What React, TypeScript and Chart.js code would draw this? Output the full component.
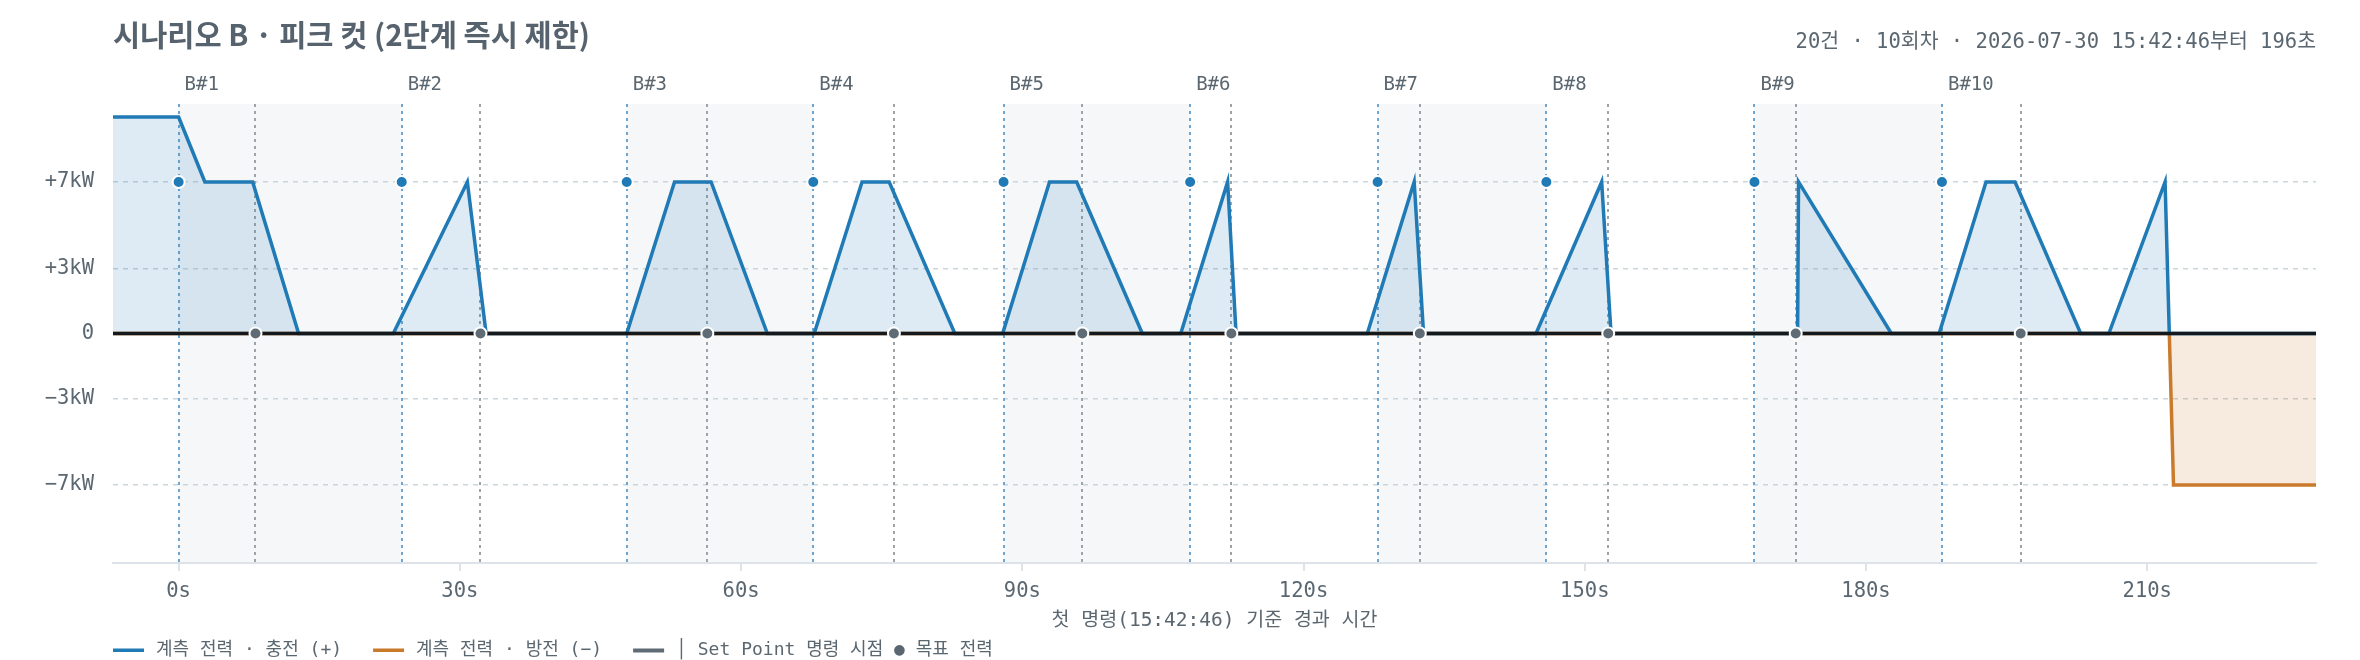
import React, { useEffect, useRef } from "react";
import { Chart, registerables } from "chart.js";

Chart.register(...registerables);

const MONO = "'DejaVu Sans Mono', 'Noto Sans CJK KR', monospace";
const SANS = "'Noto Sans CJK KR', 'Noto Sans', sans-serif";

const titleText = "시나리오 B · 피크 컷 (2단계 즉시 제한)";
const subtitleText = "20건 · 10회차 · 2026-07-30 15:42:46부터 196초";
const xAxisTitle = "첫 명령(15:42:46) 기준 경과 시간";
const seriesLabels = [
  "계측 전력 · 충전 (+)",
  "계측 전력 · 방전 (−)",
  "│ Set Point 명령 시점 ● 목표 전력",
];

// Set Point rounds
const roundLabels = ["B#1", "B#2", "B#3", "B#4", "B#5", "B#6", "B#7", "B#8", "B#9", "B#10"];
const raiseCmdSec = [0, 23.8, 47.8, 67.7, 88.0, 107.9, 127.9, 145.9, 168.1, 188.1];
const cutCmdSec = [8.2, 32.2, 56.4, 76.3, 96.4, 112.3, 132.4, 152.5, 172.5, 196.5];
const raiseTargetKW = [7, 7, 7, 7, 7, 7, 7, 7, 7, 7];
const cutTargetKW = [0, 0, 0, 0, 0, 0, 0, 0, 0, 0];

// Measured power (kW) vs elapsed seconds
const measuredSec = [
  -7, 0, 2.8, 7.9, 12.8, 22.9, 30.8, 32.8, 47.8, 52.9, 56.8, 62.8, 67.8, 72.9, 75.8, 82.8,
  87.9, 92.9, 95.8, 102.8, 106.9, 111.9, 112.8, 126.8, 131.8, 132.8, 144.8, 151.8, 152.8,
  172.7, 172.8, 182.7, 187.8, 192.8, 195.9, 202.9, 205.9, 211.9, 212.8, 228,
];
const measuredKW = [
  10, 10, 7, 7, 0, 0, 7, 0, 0, 7, 7, 0, 0, 7, 7, 0,
  0, 7, 7, 0, 0, 7, 0, 0, 7, 0, 0, 7, 0,
  0, 7, 0, 0, 7, 7, 0, 0, 7, -7, -7,
];

const xRange = [-7, 228];
const yRange = [-10.6, 10.6];
const xTickSec = [0, 30, 60, 90, 120, 150, 180, 210];
const yTickKW = [-7, -3, 0, 3, 7];
const yTickLabels = ["−7kW", "−3kW", "0", "+3kW", "+7kW"];

const BLUE = "#1f7ab5";
const BLUE_FILL = "rgba(31,122,181,0.15)";
const ORANGE = "#c97b2b";
const ORANGE_FILL = "rgba(201,123,43,0.15)";
const SLATE = "#5f6b75";
const TEXT = "#5b6770";
const GRID = "#cbd5dc";
const AXIS = "#dde3e8";
const BAND = "#f5f7f9";
const BLUE_DOT_LINE = "#6fa6d1";
const GRAY_DOT_LINE = "#9ca4aa";

function splitSigned(ts: number[], vs: number[]) {
  const pos: { x: number; y: number }[] = [];
  const neg: { x: number; y: number }[] = [];
  for (let i = 0; i < ts.length; i++) {
    if (i > 0) {
      const v0 = vs[i - 1];
      const v1 = vs[i];
      if ((v0 > 0 && v1 < 0) || (v0 < 0 && v1 > 0)) {
        const tc = ts[i - 1] + (ts[i] - ts[i - 1]) * (v0 / (v0 - v1));
        pos.push({ x: tc, y: 0 });
        neg.push({ x: tc, y: 0 });
      }
    }
    pos.push({ x: ts[i], y: Math.max(vs[i], 0) });
    neg.push({ x: ts[i], y: Math.min(vs[i], 0) });
  }
  return { pos, neg };
}

export default function App() {
  const ref = useRef<HTMLCanvasElement | null>(null);

  useEffect(() => {
    const canvas = ref.current;
    if (!canvas) return;
    const { pos, neg } = splitSigned(measuredSec, measuredKW);

    const decor = {
      id: "decor",
      beforeDraw(chart: any) {
        const { ctx, chartArea: a, scales } = chart;
        const xs = scales.x;
        ctx.save();
        ctx.fillStyle = BAND;
        for (let i = 0; i < raiseCmdSec.length; i += 2) {
          const x0 = xs.getPixelForValue(raiseCmdSec[i]);
          const x1 = i + 1 < raiseCmdSec.length ? xs.getPixelForValue(raiseCmdSec[i + 1]) : a.right;
          ctx.fillRect(x0, a.top, x1 - x0, a.bottom - a.top);
        }
        ctx.restore();
      },
      beforeDatasetsDraw(chart: any) {
        const { ctx, chartArea: a, scales } = chart;
        const xs = scales.x;
        ctx.save();
        ctx.lineWidth = 2;
        ctx.setLineDash([3, 4]);
        const vline = (t: number, color: string) => {
          const x = Math.round(xs.getPixelForValue(t));
          ctx.strokeStyle = color;
          ctx.beginPath();
          ctx.moveTo(x, a.top);
          ctx.lineTo(x, a.bottom);
          ctx.stroke();
        };
        raiseCmdSec.forEach((t) => vline(t, BLUE_DOT_LINE));
        cutCmdSec.forEach((t) => vline(t, GRAY_DOT_LINE));
        ctx.restore();
      },
      afterDatasetDraw(chart: any, args: any) {
        if (args.index !== 2) return;
        const { ctx, chartArea: a, scales } = chart;
        const y = scales.y.getPixelForValue(0);
        ctx.save();
        ctx.strokeStyle = "#15191d";
        ctx.lineWidth = 3.5;
        ctx.beginPath();
        ctx.moveTo(a.left, y);
        ctx.lineTo(a.right, y);
        ctx.stroke();
        ctx.restore();
      },
      afterDraw(chart: any) {
        const { ctx, chartArea: a, scales } = chart;
        const xs = scales.x;
        ctx.save();
        // title
        ctx.fillStyle = "#56626d";
        ctx.textBaseline = "middle";
        ctx.textAlign = "left";
        ctx.font = `bold 29.5px ${SANS}`;
        ctx.fillText(titleText, a.left, 35);
        // subtitle
        ctx.fillStyle = TEXT;
        ctx.font = `20.5px ${MONO}`;
        ctx.textAlign = "right";
        ctx.fillText(subtitleText, a.right, 43);
        // round labels
        ctx.textAlign = "left";
        ctx.font = `19px ${MONO}`;
        roundLabels.forEach((lab, i) => {
          ctx.fillText(lab, xs.getPixelForValue(raiseCmdSec[i]) + 6, 85);
        });
        // legend
        const colors = [BLUE, ORANGE, SLATE];
        ctx.font = `18px ${MONO}`;
        let x = a.left;
        const ly = 650;
        seriesLabels.forEach((lab, i) => {
          ctx.fillStyle = colors[i];
          ctx.fillRect(x, ly - 1.5, 31, i === 2 ? 4 : 3.5);
          x += 31 + 12;
          ctx.fillStyle = TEXT;
          ctx.fillText(lab, x, ly);
          x += ctx.measureText(lab).width + 31;
        });
        ctx.restore();
      },
    };

    const chart = new Chart(canvas, {
      type: "line",
      data: {
        datasets: [
          {
            label: "raise",
            data: raiseCmdSec.map((t, i) => ({ x: t, y: raiseTargetKW[i] })),
            showLine: false,
            pointRadius: 6,
            pointBackgroundColor: BLUE,
            pointBorderColor: "#ffffff",
            pointBorderWidth: 2,
          },
          {
            label: "cut",
            data: cutCmdSec.map((t, i) => ({ x: t, y: cutTargetKW[i] })),
            showLine: false,
            pointRadius: 6,
            pointBackgroundColor: SLATE,
            pointBorderColor: "#ffffff",
            pointBorderWidth: 2,
          },
          {
            label: seriesLabels[0],
            data: pos,
            borderColor: BLUE,
            backgroundColor: BLUE_FILL,
            borderWidth: 3.5,
            fill: "origin",
            pointRadius: 0,
            tension: 0,
          },
          {
            label: seriesLabels[1],
            data: neg,
            borderColor: ORANGE,
            backgroundColor: ORANGE_FILL,
            borderWidth: 3.5,
            fill: "origin",
            pointRadius: 0,
            tension: 0,
          },
        ],
      } as any,
      options: {
        responsive: false,
        animation: false,
        events: [],
        layout: { padding: { left: 0, right: 44, top: 104, bottom: 27 } },
        scales: {
          x: {
            type: "linear",
            min: xRange[0],
            max: xRange[1],
            afterBuildTicks: (s: any) => {
              s.ticks = xTickSec.map((v) => ({ value: v }));
            },
            afterFit: (s: any) => {
              s.height = 70;
            },
            grid: { drawOnChartArea: false, drawTicks: true, tickLength: 8, color: AXIS, lineWidth: 2 },
            border: { display: true, color: AXIS, width: 2 },
            ticks: {
              padding: 8,
              autoSkip: false,
              maxRotation: 0,
              color: TEXT,
              font: { family: MONO, size: 20.5 },
              callback: (v: any) => `${v}s`,
            },
            title: {
              display: true,
              text: xAxisTitle,
              color: TEXT,
              font: { family: MONO, size: 19.5 },
              padding: { top: 0, bottom: 0 },
            },
          },
          y: {
            type: "linear",
            min: yRange[0],
            max: yRange[1],
            afterBuildTicks: (s: any) => {
              s.ticks = yTickKW.map((v) => ({ value: v }));
            },
            afterFit: (s: any) => {
              s.width = 113;
            },
            grid: { color: GRID, lineWidth: 1.5, drawTicks: false },
            border: { display: false, dash: [5, 5] },
            ticks: {
              padding: 19,
              color: TEXT,
              font: { family: MONO, size: 20.5 },
              callback: (v: any) => {
                const i = yTickKW.indexOf(Number(v));
                return i >= 0 ? yTickLabels[i] : "";
              },
            },
          },
        },
        plugins: {
          legend: { display: false },
          tooltip: { enabled: false },
          title: { display: false },
        },
      } as any,
      plugins: [decor],
    });
    return () => chart.destroy();
  }, []);

  return (
    <div style={{ position: "fixed", left: 0, top: 0, width: 2360, height: 660, background: "#ffffff" }}>
      <canvas ref={ref} width={2360} height={660} style={{ display: "block", width: 2360, height: 660 }} />
    </div>
  );
}
